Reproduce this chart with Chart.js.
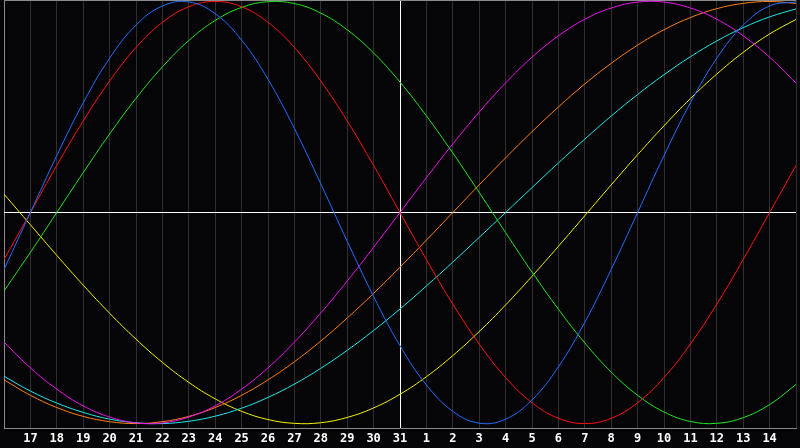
<!DOCTYPE html>
<html>
<head>
<meta charset="utf-8">
<script src="https://cdn.jsdelivr.net/npm/chart.js@4"></script>
<style>
  html, body { margin: 0; padding: 0; background: #050507; }
  #wrap { width: 800px; height: 448px; }
</style>
</head>
<body>
<div id="wrap"><canvas id="grafico" width="800" height="448"></canvas></div>
<script>
// days 16..46 (31 = end of month, then 1..15 of next month)
const days = [16, 17, 18, 19, 20, 21, 22, 23, 24, 25, 26, 27, 28, 29, 30, 31,
  32, 33, 34, 35, 36, 37, 38, 39, 40, 41, 42, 43, 44, 45, 46];

const azul = [-27.0, 0, 27.0, 52.0, 73.1, 88.8, 97.9, 99.8, 94.2, 81.7, 63.1, 39.8, 13.6, -13.6, -39.8, -63.1,
  -81.7, -94.2, -99.8, -97.9, -88.8, -73.1, -52.0, -27.0, 0, 27.0, 52.0, 73.1, 88.8, 97.9, 99.8];
const vermelho = [-22.3, 0, 22.3, 43.4, 62.3, 78.2, 90.1, 97.5, 100, 97.5, 90.1, 78.2, 62.3, 43.4, 22.3, 0,
  -22.3, -43.4, -62.3, -78.2, -90.1, -97.5, -100, -97.5, -90.1, -78.2, -62.3, -43.4, -22.3, 0, 22.3];
const verde = [-37.2, -18.9, 0, 18.9, 37.2, 54.1, 69.0, 81.5, 91.0, 97.2, 99.9, 99.0, 94.5, 86.6, 75.6, 61.8,
  45.8, 28.2, 9.5, -9.5, -28.2, -45.8, -61.8, -75.6, -86.6, -94.5, -99.0, -99.9, -97.2, -91.0, -81.5];
const magenta = [-61.4, -73.6, -83.7, -91.6, -96.9, -99.7, -99.7, -96.9, -91.6, -83.7, -73.6, -61.4, -47.6, -32.5, -16.5, 0,
  16.5, 32.5, 47.6, 61.4, 73.6, 83.7, 91.6, 96.9, 99.7, 99.7, 96.9, 91.6, 83.7, 73.6, 61.4];
const laranja = [-79.3, -86.6, -92.4, -96.6, -99.1, -100, -99.1, -96.6, -92.4, -86.6, -79.3, -70.7, -60.9, -50.0, -38.3, -25.9,
  -13.1, 0, 13.1, 25.9, 38.3, 50.0, 60.9, 70.7, 79.3, 86.6, 92.4, 96.6, 99.1, 100, 99.1];
const ciano = [-77.6, -84.6, -90.3, -94.7, -97.9, -99.6, -100, -98.9, -96.5, -92.7, -87.6, -81.3, -73.8, -65.3, -55.9, -45.7,
  -34.8, -23.5, -11.8, 0, 11.8, 23.5, 34.8, 45.7, 55.9, 65.3, 73.8, 81.3, 87.6, 92.7, 96.5];
const amarelo = [8.7, -5.8, -20.3, -34.4, -47.7, -60.0, -71.0, -80.5, -88.3, -94.2, -98.1, -99.9, -99.6, -97.1, -92.6, -86.1,
  -77.8, -67.8, -56.4, -43.8, -30.2, -16.0, -1.5, 13.1, 27.4, 41.1, 54.0, 65.6, 75.9, 84.6, 91.5];

function pontos(valores) {
  return valores.map((v, i) => ({ x: days[i], y: v }));
}

function serie(valores, cor) {
  return {
    data: pontos(valores),
    borderColor: cor,
    backgroundColor: cor,
    borderWidth: 1,
    pointRadius: 0,
    tension: 0.4,
    fill: false
  };
}

const fundo = {
  id: 'fundo',
  beforeDraw(chart) {
    const ctx = chart.ctx;
    ctx.save();
    ctx.fillStyle = '#050507';
    ctx.fillRect(0, 0, chart.width, chart.height);
    ctx.restore();
  },
  beforeDatasetsDraw(chart) {
    const ctx = chart.ctx;
    const a = chart.chartArea;
    ctx.save();
    ctx.strokeStyle = '#8a8a8a';
    ctx.lineWidth = 1;
    ctx.beginPath();
    ctx.moveTo(a.left, 0.5);
    ctx.lineTo(a.right, 0.5);
    ctx.stroke();
    ctx.restore();
  }
};

new Chart(document.getElementById('grafico'), {
  type: 'line',
  data: {
    datasets: [
      serie(azul, '#1f6fff'),
      serie(vermelho, '#ff1010'),
      serie(verde, '#22e622'),
      serie(magenta, '#f010f0'),
      serie(laranja, '#ff8010'),
      serie(ciano, '#20e8e8'),
      serie(amarelo, '#f2f200')
    ]
  },
  options: {
    responsive: false,
    devicePixelRatio: 1,
    animation: false,
    layout: { padding: 0 },
    plugins: { legend: { display: false }, tooltip: { enabled: false } },
    scales: {
      x: {
        type: 'linear',
        min: 16,
        max: 46,
        afterFit(scale) { scale.height = 20; },
        ticks: {
          stepSize: 1,
          autoSkip: false,
          maxRotation: 0,
          padding: 4,
          color: '#ffffff',
          font: { family: 'DejaVu Sans Mono', size: 12, weight: 'bold' },
          callback(v) {
            if (v <= 16 || v >= 46) return '';
            return v <= 31 ? String(v) : String(v - 31);
          }
        },
        grid: {
          drawTicks: false,
          color(c) {
            const v = c.tick ? c.tick.value : null;
            if (v === 31) return '#ffffff';
            if (v === 16) return '#8a8a8a';
            return '#303030';
          },
          lineWidth: 1
        },
        border: { color: '#8a8a8a' }
      },
      y: {
        min: -102.1,
        max: 100.7,
        afterFit(scale) { scale.width = 0; },
        afterBuildTicks(scale) { scale.ticks = [{ value: 0 }]; },
        ticks: { display: false },
        grid: { drawTicks: false, color: '#ffffff', lineWidth: 1 },
        border: { display: false }
      }
    }
  },
  plugins: [fundo]
});
</script>
</body>
</html>
